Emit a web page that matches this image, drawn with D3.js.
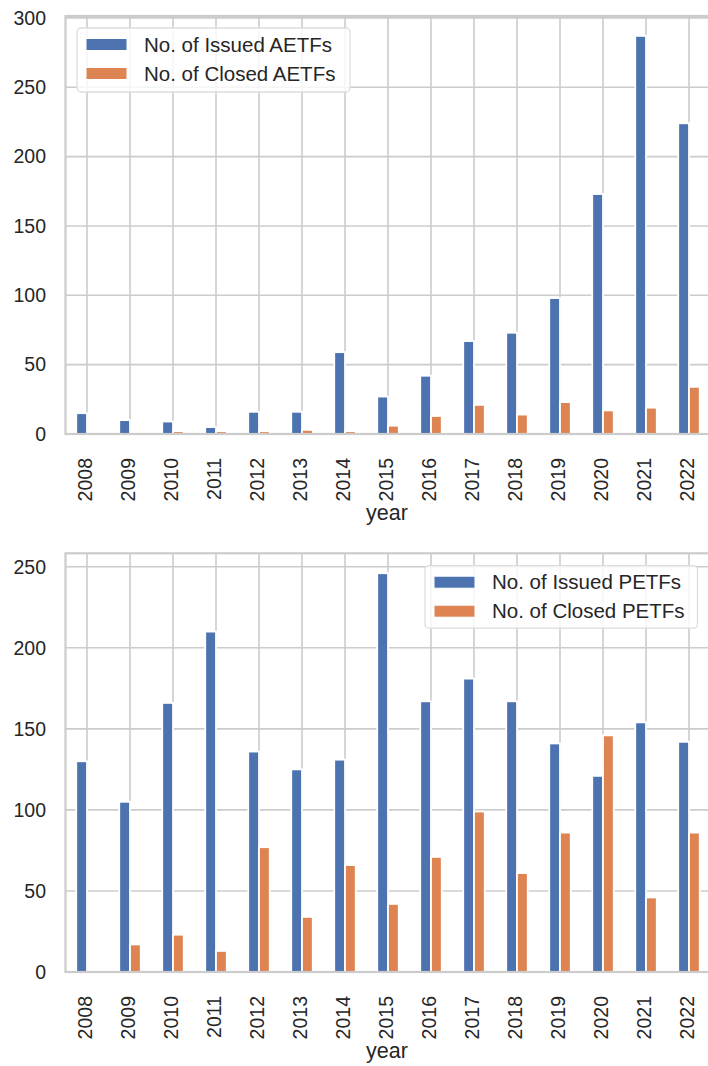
<!DOCTYPE html>
<html>
<head>
<meta charset="utf-8">
<script src="https://cdn.jsdelivr.net/npm/d3@7"></script>
<style>
  body { margin: 0; background: #fff; }
  svg { display: block; font-family: "Liberation Sans", Arial, sans-serif; }
  .grid line { stroke: #cccccc; stroke-width: 1.6; }
  .tick-label { fill: #262626; font-size: 19.5px; }
</style>
</head>
<body>
<div id="chart"></div>
<script>
const years = [2008, 2009, 2010, 2011, 2012, 2013, 2014, 2015, 2016, 2017, 2018, 2019, 2020, 2021, 2022];

const issuedAETFs = [15, 10, 9, 5, 16, 16, 59, 27, 42, 67, 73, 98, 173, 287, 224];
const closedAETFs = [0, 0, 2, 2, 2, 3, 2, 6, 13, 21, 14, 23, 17, 19, 34];

const issuedPETFs = [130, 105, 166, 210, 136, 125, 131, 246, 167, 181, 167, 141, 121, 154, 142];
const closedPETFs = [0, 17, 23, 13, 77, 34, 66, 42, 71, 99, 61, 86, 146, 46, 86];

const aetfTicks = [0, 50, 100, 150, 200, 250, 300];
const petfTicks = [0, 50, 100, 150, 200, 250];

const seriesColors = ['#4c72b0', '#dd8452'];

const W = 708, H = 1066;
const svg = d3.select('#chart').append('svg')
  .attr('width', W).attr('height', H);

function drawPanel(opts) {
  const { top, bottom, left, right, series, labels, ticks, legendBox } = opts;
  const g = svg.append('g');

  const x = d3.scaleBand().domain(years).range([left, right]).padding(0);
  const ymax = d3.max(series.flat()) * 1.05;
  const y = d3.scaleLinear().domain([0, ymax]).range([bottom, top]);

  // grid
  const grid = g.append('g').attr('class', 'grid');
  grid.selectAll('line.h').data(ticks).join('line')
    .attr('class', 'h')
    .attr('x1', left).attr('x2', right)
    .attr('y1', d => y(d)).attr('y2', d => y(d));
  grid.selectAll('line.v').data(years).join('line')
    .attr('class', 'v')
    .attr('x1', d => x(d) + x.bandwidth() / 2).attr('x2', d => x(d) + x.bandwidth() / 2)
    .attr('y1', top).attr('y2', bottom);

  // bars (pandas style: total width 0.5 of the band)
  const bw = x.bandwidth() * 0.25;
  series.forEach((vals, si) => {
    g.append('g').selectAll('rect').data(vals).join('rect')
      .attr('x', (d, i) => x(years[i]) + x.bandwidth() / 2 + (si - 1) * bw)
      .attr('y', d => y(d))
      .attr('width', bw)
      .attr('height', d => y(0) - y(d))
      .attr('fill', seriesColors[si])
      .attr('stroke', '#fff')
      .attr('stroke-width', 1.8);
  });

  // frame
  g.append('rect')
    .attr('x', left).attr('y', top)
    .attr('width', right - left).attr('height', bottom - top)
    .attr('fill', 'none').attr('stroke', '#cccccc').attr('stroke-width', 2.2);

  // y tick labels
  g.append('g').selectAll('text').data(ticks).join('text')
    .attr('class', 'tick-label')
    .attr('x', 46).attr('y', d => y(d)).attr('dy', '0.35em')
    .attr('text-anchor', 'end')
    .text(d => d);

  // x tick labels, rotated
  g.append('g').selectAll('text').data(years).join('text')
    .attr('class', 'tick-label')
    .attr('transform', d => `translate(${x(d) + x.bandwidth() / 2},${bottom + 24}) rotate(-90)`)
    .attr('dy', '0.27em')
    .attr('text-anchor', 'end')
    .text(d => d);

  g.append('text')
    .attr('x', (left + right) / 2 - 1).attr('y', bottom + 86)
    .attr('text-anchor', 'middle')
    .attr('fill', '#262626').style('font-size', '21.5px')
    .text('year');

  // legend
  const lg = g.append('g');
  lg.append('rect')
    .attr('x', legendBox.x).attr('y', legendBox.y)
    .attr('width', legendBox.w).attr('height', legendBox.h)
    .attr('rx', 4)
    .attr('fill', '#fff').attr('fill-opacity', 0.8)
    .attr('stroke', '#dddddd').attr('stroke-width', 1.3);
  labels.forEach((lab, i) => {
    const cy = legendBox.y + 16.5 + i * 29;
    lg.append('rect')
      .attr('x', legendBox.x + 9).attr('y', cy - 6)
      .attr('width', 41).attr('height', 12)
      .attr('fill', seriesColors[i])
      .attr('stroke', '#fff').attr('stroke-width', 1);
    lg.append('text')
      .attr('x', legendBox.x + 67).attr('y', cy).attr('dy', '0.35em')
      .attr('fill', '#262626').style('font-size', '20.5px')
      .text(lab);
  });
}

drawPanel({
  top: 16, bottom: 434, left: 65.5, right: 710.5,
  series: [issuedAETFs, closedAETFs],
  labels: ['No. of Issued AETFs', 'No. of Closed AETFs'],
  ticks: aetfTicks,
  legendBox: { x: 77, y: 28, w: 273, h: 64 }
});

drawPanel({
  top: 553.3, bottom: 972, left: 65.5, right: 710.5,
  series: [issuedPETFs, closedPETFs],
  labels: ['No. of Issued PETFs', 'No. of Closed PETFs'],
  ticks: petfTicks,
  legendBox: { x: 425, y: 565.7, w: 272.5, h: 62.5 }
});
</script>
</body>
</html>
